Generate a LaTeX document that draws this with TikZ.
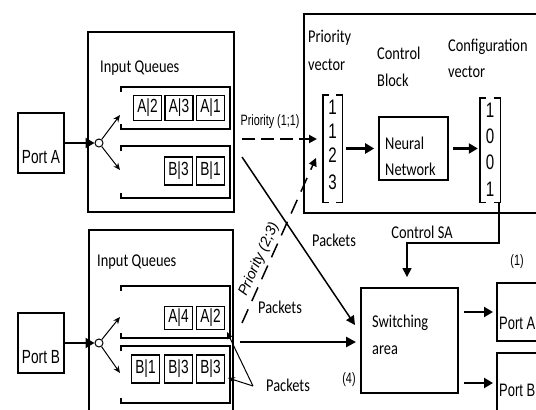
\documentclass[tikz,border=0pt]{standalone}
\usepackage{fontspec}
\setmainfont{Carlito}[FakeStretch=0.8]
\newfontfamily\nar[FakeStretch=0.72]{Liberation Sans}
\newfontfamily\wide{Liberation Sans}
\usetikzlibrary{arrows.meta}
\begin{document}
\begin{tikzpicture}[x=1pt,y=-1pt,
 box/.style={draw, line width=1.9pt, inner sep=0pt},
 itm/.style={draw, line width=1.3pt, minimum width=28pt, inner sep=0pt, font=\nar\fontsize{19}{21}\selectfont},
 cal/.style={font=\fontsize{18}{20}\selectfont, inner sep=0pt},
 nr/.style={font=\nar\fontsize{19}{21}\selectfont, inner sep=0pt},
 nrs/.style={font=\nar\fontsize{15}{17}\selectfont, inner sep=0pt},
 vec/.style={font=\nar\fontsize{21}{23}\selectfont, inner sep=0pt},
 bigarr/.style={line width=2.6pt, -{Triangle[length=9pt,width=10pt]}},
 arr/.style={line width=1.5pt, -{Triangle[length=9pt,width=9pt]}},
 thinarr/.style={line width=1pt, -{Stealth[length=7pt,width=6pt]}},
 queue/.style={line width=2.4pt},
 brk/.style={line width=1.4pt},
 ]
\useasboundingbox (0,0) rectangle (536,410);

% ---------- Port A side ----------
\node[box, minimum width=46pt, minimum height=60pt] (pa) at (41,143) {};
\node[nr] (patxt) at (41,157) {Port A};
\node[box, minimum width=146pt, minimum height=180pt] (iqa) at (161,122) {};
\node[cal, anchor=west] (iqatxt) at (100,68) {Input Queues};
\draw[queue] (121,92) -- (121,87) -- (230,87) -- (230,129) -- (121,129) -- (121,124);
\draw[queue] (121,151) -- (121,146) -- (230,146) -- (230,198) -- (121,198) -- (121,193);
\node[itm, minimum height=25pt] (a2) at (147.5,108) {A|2};
\node[itm, minimum height=25pt] (a3) at (179,108) {A|3};
\node[itm, minimum height=25pt] (a1) at (210.5,108) {A|1};
\node[itm, minimum height=28pt] (b3) at (178.5,171) {B|3};
\node[itm, minimum height=28pt] (b1) at (210.5,171) {B|1};
\node[circle, draw, line width=1pt, minimum size=8pt, inner sep=0pt] (ca) at (99,143) {};
\coordinate (qa1) at (120,115);
\coordinate (qa2) at (120,170);
\draw[bigarr] (pa.east) -- (ca.west);
\draw[thinarr] (ca) -- (qa1);
\draw[thinarr] (ca) -- (qa2);

% ---------- Port B side ----------
\node[box, minimum width=46pt, minimum height=60pt] (pb) at (41,343) {};
\node[nr] (pbtxt) at (41,357) {Port B};
\node[box, minimum width=144pt, minimum height=200pt] (iqb) at (161,330) {};
\node[cal, anchor=west] (iqbtxt) at (97,262) {Input Queues};
\draw[queue] (121,291) -- (121,286) -- (230,286) -- (230,338) -- (121,338) -- (121,333);
\draw[queue] (121,351) -- (121,346) -- (230,346) -- (230,403) -- (121,403) -- (121,398);
\node[itm, minimum height=23pt] (a4) at (178.5,318) {A|4};
\node[itm, minimum height=23pt] (a2b) at (210.5,318) {A|2};
\node[itm, minimum height=28pt] (b1b) at (145.5,369) {B|1};
\node[itm, minimum height=28pt] (b3b) at (178.5,369) {B|3};
\node[itm, minimum height=28pt] (b3c) at (210.5,369) {B|3};
\node[circle, draw, line width=1pt, minimum size=8pt, inner sep=0pt] (cb2) at (99,343) {};
\coordinate (qb1) at (120,317);
\coordinate (qb2) at (120,373);
\draw[bigarr] (pb.east) -- (cb2.west);
\draw[thinarr] (cb2) -- (qb1);
\draw[thinarr] (cb2) -- (qb2);

% ---------- Control block ----------
\node[box, minimum width=250pt, minimum height=199pt, anchor=north west] (ctl) at (303,13) {};
\node[cal, anchor=west] (pvt1) at (308,38) {Priority};
\node[cal, anchor=west] (pvt2) at (308,65) {vector};
\node[cal, anchor=west] (cbt1) at (377,53) {Control};
\node[cal, anchor=west] (cbt2) at (377,80) {Block};
\node[cal, anchor=west] (cvt1) at (448,47) {Configuration};
\node[cal, anchor=west] (cvt2) at (448,72) {vector};

\node[minimum width=19pt, minimum height=107pt, inner sep=0pt] (pv) at (332.5,148.5) {};
\draw[brk] ([xshift=6pt]pv.north west) -- (pv.north west) -- (pv.south west) -- ([xshift=6pt]pv.south west);
\draw[brk] ([xshift=-6pt]pv.north east) -- (pv.north east) -- (pv.south east) -- ([xshift=-6pt]pv.south east);
\node[vec] (pv1) at (332.5,107) {1};
\node[vec] (pv2) at (332.5,131) {1};
\node[vec] (pv3) at (332.5,155) {2};
\node[vec] (pv4) at (332.5,182) {3};

\node[draw, line width=1.6pt, minimum width=69pt, minimum height=63pt, inner sep=0pt] (nn) at (413.5,148.5) {};
\node[cal, anchor=west] (nnt1) at (385,143) {Neural};
\node[cal, anchor=west] (nnt2) at (385,169) {Network};

\node[minimum width=20pt, minimum height=104pt, inner sep=0pt] (cv) at (490,150) {};
\draw[brk] ([xshift=6pt]cv.north west) -- (cv.north west) -- (cv.south west) -- ([xshift=6pt]cv.south west);
\draw[brk] ([xshift=-6pt]cv.north east) -- (cv.north east) -- (cv.south east) -- ([xshift=-6pt]cv.south east);
\node[vec] (cv1) at (490,110) {1};
\node[vec] (cv2) at (490,136) {0};
\node[vec] (cv3) at (490,162) {0};
\node[vec] (cv4) at (490,189) {1};

\draw[bigarr, shorten <=4pt, shorten >=4pt] (pv.east |- nn.west) -- (nn.west);
\draw[bigarr, shorten <=4pt, shorten >=2pt] (nn.east) -- (cv.west |- nn.east);

% ---------- Switching area ----------
\node[box, minimum width=97pt, minimum height=105pt] (sw) at (409.5,340.5) {};
\node[cal, anchor=west] (swt1) at (372,323) {Switching};
\node[cal, anchor=west] (swt2) at (372,350) {area};
\coordinate (csa) at (407,243);
\draw[arr, shorten >=10pt] ([xshift=-1pt]cv.south east) |- (csa) -- (csa |- sw.north);
\node[cal] (csat) at (422,232) {Control SA};

\node[box, minimum width=64pt, minimum height=58pt, anchor=north west] (opa) at (496,282) {};
\node[nr, anchor=west, font=\nar\fontsize{18}{20}\selectfont] (opat) at (499,323) {Port A};
\node[box, minimum width=64pt, minimum height=68pt, anchor=north west] (opb) at (496,352) {};
\node[nr, anchor=west, font=\nar\fontsize{18}{20}\selectfont] (opbt) at (499,390) {Port B};
\node[nrs] (n1) at (517,262) {(1)};
\node[nrs] (n4) at (349,380) {(4)};
\coordinate (oa) at (sw.east |- 0,312);
\coordinate (ob) at (sw.east |- 0,383);
\draw[bigarr, shorten <=5pt, shorten >=3pt] (oa) -- (opa.west |- oa);
\draw[bigarr, shorten <=5pt, shorten >=3pt] (ob) -- (opb.west |- ob);

% ---------- connections ----------
\coordinate (d1s) at (242,139);
\coordinate (d1e) at (317,139);
\draw[line width=2pt, dash pattern=on 13pt off 6pt, -{Triangle[length=8pt,width=8pt]}] (d1s) -- (d1e);
\node[nrs] (p11) at (270,122) {Priority (1;1)};

\coordinate (d2s) at (242,323);
\coordinate (d2e) at (316,158);
\draw[line width=1.5pt, dash pattern=on 15pt off 9pt, -{Triangle[length=8pt,width=8pt]}] (d2s) -- node[sloped, above=3pt, pos=0.36, inner sep=0pt, font=\wide\itshape\fontsize{14.5}{16}\selectfont] (p23) {Priority (2;3)} (d2e);

\coordinate (k1s) at (242,157);
\coordinate (k1e) at (355,325);
\draw[arr] (k1s) -- (k1e);
\node[cal] (pk1) at (334,240) {Packets};

\coordinate (k2s) at (240,342);
\draw[line width=2.4pt, -{Triangle[length=10pt,width=10pt]}, shorten >=4pt] (k2s) -- (sw.west |- k2s);
\node[cal] (pk2) at (280,307) {Packets};

\node[cal] (pk3) at (288,385) {Packets};
\coordinate (t0) at (253,386);
\coordinate (t1) at (227,332);
\coordinate (t2) at (228,378);
\draw[thinarr] (t0) -- (t1);
\draw[thinarr] (t0) -- (t2);
\end{tikzpicture}
\end{document}
